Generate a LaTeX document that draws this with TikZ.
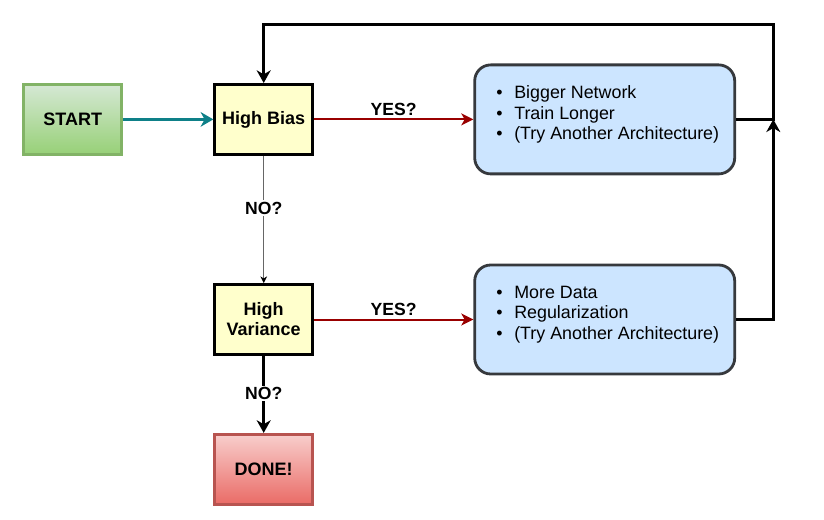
\documentclass[tikz,border=0pt]{standalone}
\usepackage{fontspec}
\setmainfont{Liberation Sans}
\usetikzlibrary{arrows.meta}
\definecolor{startfillA}{HTML}{D5E8D4}
\definecolor{startfillB}{HTML}{97D077}
\definecolor{startline}{HTML}{82B366}
\definecolor{donefillA}{HTML}{F8CECC}
\definecolor{donefillB}{HTML}{EA6B66}
\definecolor{doneline}{HTML}{B85450}
\definecolor{yellowfill}{HTML}{FFFFCC}
\definecolor{bluefill}{HTML}{CCE5FF}
\definecolor{blueline}{HTML}{36393D}
\definecolor{tealline}{HTML}{0E8088}
\definecolor{redline}{HTML}{990000}
\definecolor{grayline}{HTML}{666666}
\begin{document}
\begin{tikzpicture}[x=0.75pt,y=-0.75pt,
  box/.style={minimum width=73.5pt, minimum height=52.5pt, inner sep=0pt,
    line width=2.1pt, align=center,
    font=\fontsize{13.5}{15}\selectfont\bfseries},
  startbox/.style={box, draw=startline, top color=startfillA, bottom color=startfillB},
  decbox/.style={box, draw=black, fill=yellowfill},
  donebox/.style={box, draw=doneline, top color=donefillA, bottom color=donefillB},
  actbox/.style={minimum width=195pt, minimum height=81.75pt, inner sep=0pt,
    line width=2.1pt, draw=blueline, fill=bluefill, rounded corners=12pt},
  listtext/.style={anchor=west, inner sep=0pt, align=left,
    font=\fontsize{13.4}{15.6}\selectfont},
  lbl/.style={font=\fontsize{13.2}{15}\selectfont\bfseries, inner sep=1pt},
  thickarrow/.style={line width=2.1pt, -{Stealth[length=9.5pt,width=10.5pt,inset=3pt]}},
  tealarrow/.style={draw=tealline, line width=1.7pt, -{Stealth[length=9.5pt,width=11pt,inset=3pt]}},
  redarrow/.style={draw=redline, line width=1.5pt, -{Stealth[length=9pt,width=9pt,inset=2.5pt]}},
  thinarrow/.style={draw=grayline, line width=0.75pt, -{Stealth[length=5pt,width=5pt,inset=1.5pt,color=black]}},
]
\useasboundingbox (0,0) rectangle (824,520);

\node[startbox] (start) at (72.7,119.4) {START};
\node[decbox] (hb) at (263.7,119.4) {High Bias};
\node[decbox] (hv) at (263.7,319.5) {High\\Variance};
\node[donebox] (done) at (263.7,469.3) {DONE!};
\node[actbox] (b1) at (604.7,119.4) {};
\node[actbox] (b2) at (604.7,319.5) {};

\node[listtext] (b1t) at (496,114.5) {\makebox[13.5pt][l]{\textbullet}Bigger Network\\
  \makebox[13.5pt][l]{\textbullet}Train Longer\\
  \makebox[13.5pt][l]{\textbullet}(Try Another Architecture)};
\node[listtext] (b2t) at (496,314.6) {\makebox[13.5pt][l]{\textbullet}More Data\\
  \makebox[13.5pt][l]{\textbullet}Regularization\\
  \makebox[13.5pt][l]{\textbullet}(Try Another Architecture)};

\coordinate (tr) at (773.3,24.3);
\coordinate (jn) at (773.3,119.4);

\draw[tealarrow] (start) -- (hb);
\draw[redarrow] (hb) -- node[lbl, above=1pt] (y1) {YES?} (b1);
\draw[redarrow] (hv) -- node[lbl, above=1pt] (y2) {YES?} (b2);
\draw[thinarrow] (hb) -- node[lbl, fill=white, pos=0.41] (n1) {NO?} (hv);
\draw[thickarrow] (hv) -- node[lbl, fill=white, pos=0.49] (n2) {NO?} (done);
\draw[thickarrow] (b1.east) -| (tr) -| (hb.north);
\draw[thickarrow] (b2.east) -| (jn);
\end{tikzpicture}
\end{document}
